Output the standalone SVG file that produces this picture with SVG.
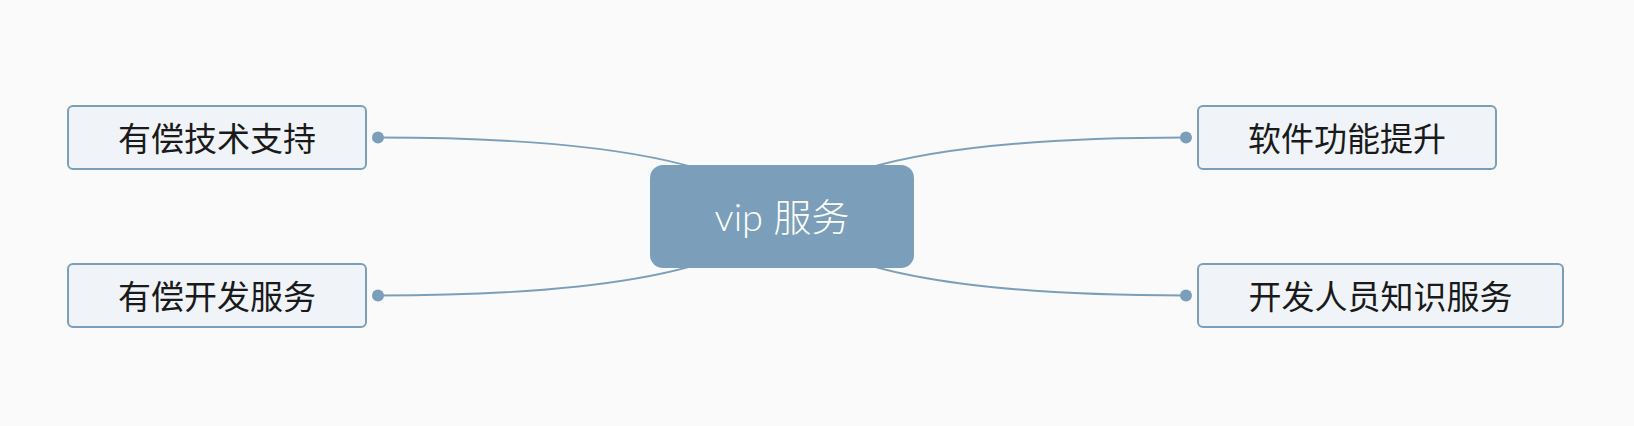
<svg xmlns="http://www.w3.org/2000/svg" width="1634" height="426" viewBox="0 0 1634 426">
<style>
.bg{fill:#fafafa}
.conn{fill:none;stroke:#7b9fbb;stroke-width:2}
.dot{fill:#7b9fbb}
.box{fill:#f0f4f8;stroke:#7b9fbb;stroke-width:2}
.lbl{font-family:"Noto Sans CJK SC","Noto Sans",sans-serif;font-size:33px;fill:#1a1a1a;text-anchor:middle}
.root{fill:#7b9fbb}
.rootlbl{font-family:"Lato","Noto Sans CJK SC",sans-serif;font-weight:300;font-size:38px;fill:#ffffff;text-anchor:middle}
</style>
<rect class="bg" x="0" y="0" width="1634" height="426"/>
<g id="connectors">
<path class="conn" d="M378 137.5 Q722 137.5 782 216.5"/>
<path class="conn" d="M378 295.5 Q722 295.5 782 216.5"/>
<path class="conn" d="M1186 137.5 Q842 137.5 782 216.5"/>
<path class="conn" d="M1186 295.5 Q842 295.5 782 216.5"/>
<circle class="dot" cx="378" cy="137.5" r="6"/>
<circle class="dot" cx="378" cy="295.5" r="6"/>
<circle class="dot" cx="1186" cy="137.5" r="6"/>
<circle class="dot" cx="1186" cy="295.5" r="6"/>
</g>
<g id="root">
<rect class="root" x="650" y="165" width="264" height="103" rx="13" ry="13"/>
<text class="rootlbl" x="782" y="231">vip 服务</text>
</g>
<g id="n1">
<rect class="box" x="68" y="106" width="298" height="63" rx="5" ry="5"/>
<text class="lbl" x="217" y="151">有偿技术支持</text>
</g>
<g id="n2">
<rect class="box" x="68" y="264" width="298" height="63" rx="5" ry="5"/>
<text class="lbl" x="217" y="309">有偿开发服务</text>
</g>
<g id="n3">
<rect class="box" x="1198" y="106" width="298" height="63" rx="5" ry="5"/>
<text class="lbl" x="1347" y="151">软件功能提升</text>
</g>
<g id="n4">
<rect class="box" x="1198" y="264" width="365" height="63" rx="5" ry="5"/>
<text class="lbl" x="1380.5" y="309">开发人员知识服务</text>
</g>
</svg>
